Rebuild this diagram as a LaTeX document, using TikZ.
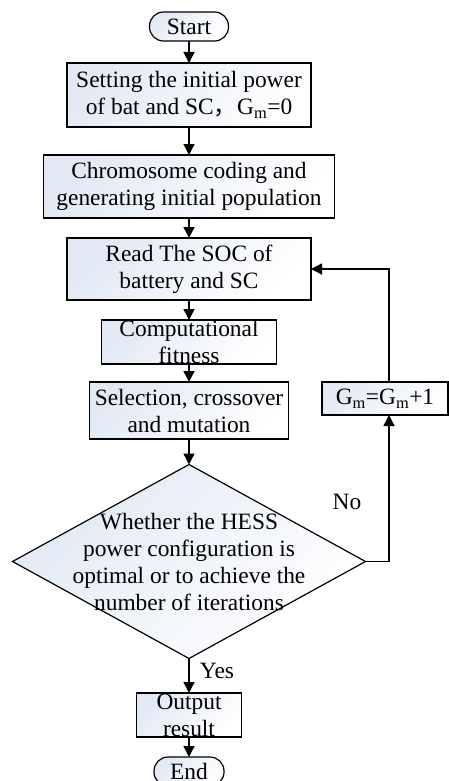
\documentclass[tikz,border=0pt]{standalone}
\usepackage{fontspec}
\setmainfont{Liberation Serif}
\newfontfamily\cjk{Noto Sans CJK SC}
\usepackage{tikz}
\usetikzlibrary{shapes.geometric,arrows.meta}
\definecolor{boxblue}{HTML}{E2E9F5}

\begin{document}
\begin{tikzpicture}[x=1pt, y=-1pt,
  txt/.style={font=\fontsize{23.4}{27}\selectfont, align=center, inner sep=0pt},
  box/.style={draw, line width=1.2pt, inner sep=0pt, outer sep=0pt,
    top color=boxblue, bottom color=white, shading angle=45},
  term/.style={box, rounded corners=14pt},
  decision/.style={box, diamond},
  arr/.style={-{Triangle[width=11pt,length=11pt]}, line width=1.4pt}]
\useasboundingbox (0,0) rectangle (449,781);

% Start
\node[term, minimum width=79pt, minimum height=29pt] (start) at (189,26.5) {};
\node[txt] (start-t) at (start) {Start};

% Initialisation
\node[box, minimum width=244pt, minimum height=64pt] (init) at (189,95) {};
\node[txt] (init-t) at (init) {Setting the initial power\\of bat and SC{\cjk ，}G\textsubscript{m}=0};

\node[box, minimum width=291pt, minimum height=63pt] (code) at (189,186.5) {};
\node[txt] (code-t) at (code) {Chromosome coding and\\generating initial population};

% GA loop
\node[box, minimum width=244pt, minimum height=62pt] (read) at (189,269) {};
\node[txt] (read-t) at (read) {Read The SOC of\\battery and SC};

\node[box, minimum width=175pt, minimum height=44pt] (fit) at (189,342) {};
\node[txt] (fit-t) at (fit) {Computational\\fitness};

\node[box, minimum width=199pt, minimum height=57pt] (sel) at (189,410.5) {};
\node[txt] (sel-t) at (sel) {Selection, crossover\\and mutation};

\node[box, minimum width=126pt, minimum height=33pt] (gm) at (385,398.5) {};
\node[txt] (gm-t) at (gm) {G\textsubscript{m}=G\textsubscript{m}+1};

% Decision
\node[decision, minimum width=353pt, minimum height=194pt] (dec) at (189,561.5) {};
\node[txt] (dec-t) at (dec) {Whether the HESS\\power configuration is\\optimal or to achieve the\\number of iterations};
\node[txt] (no) at (347,502) {No};
\node[txt] (yes) at (217,671) {Yes};

% Output and end
\node[box, minimum width=105pt, minimum height=44pt] (out) at (189,715) {};
\node[txt] (out-t) at (out) {Output\\result};

\node[term, minimum width=70pt, minimum height=29pt] (end) at (189,771.5) {};
\node[txt] (end-t) at (end) {End};

% Arrows
\draw[arr] (start) -- (init);
\draw[arr] (init) -- (code);
\draw[arr] (code) -- (read);
\draw[arr] (read) -- (fit);
\draw[arr] (fit) -- (sel);
\draw[arr] (sel) -- (dec);
\draw[arr] (dec) -- (out);
\draw[arr] (out) -- (end);
\draw[arr] (dec.east) -| ([xshift=4pt]gm.south);
\draw[arr] ([xshift=4pt]gm.north) |- (read.east);
\end{tikzpicture}
\end{document}
